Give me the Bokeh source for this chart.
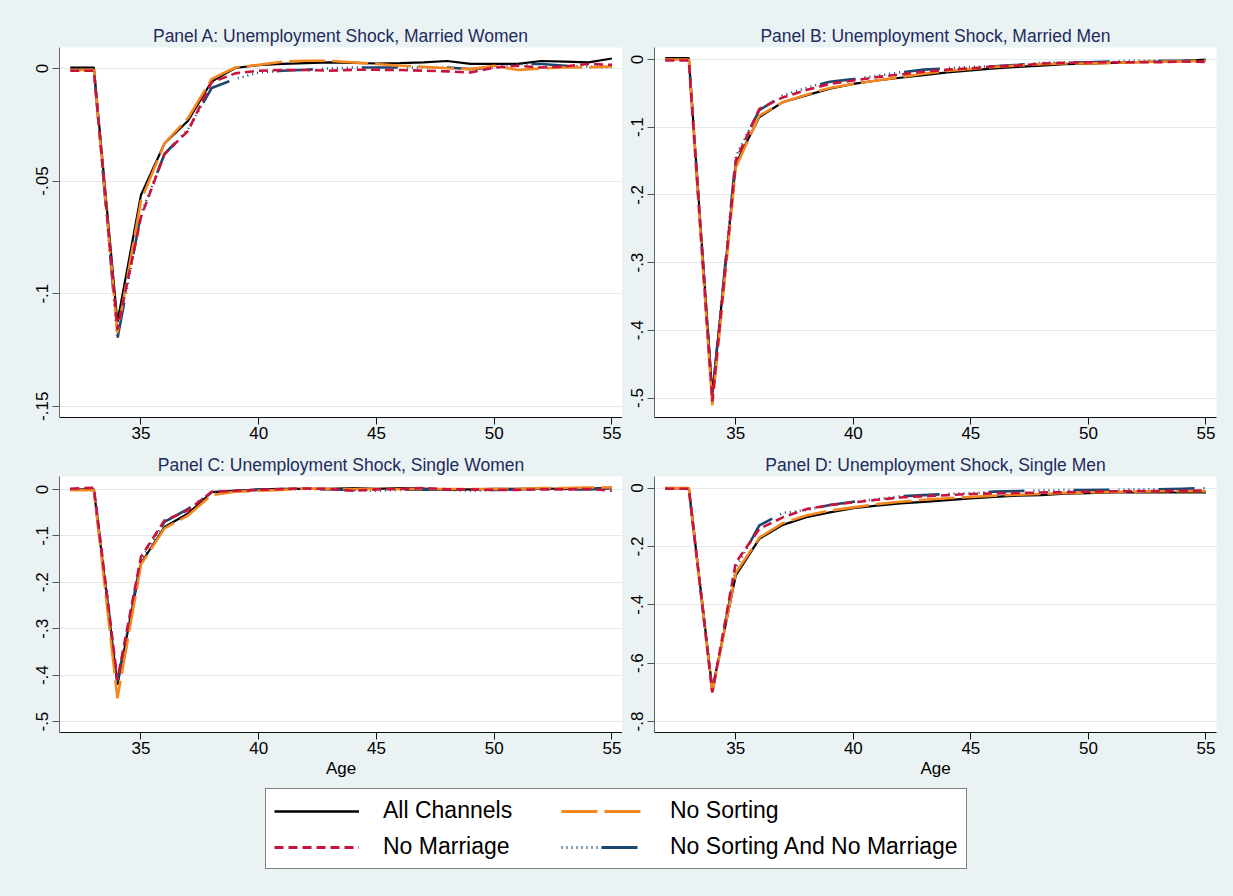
from bokeh.plotting import figure
from bokeh.layouts import column, row
from bokeh.models import Range1d, FixedTicker, CustomJSTickFormatter, Legend, LegendItem
from bokeh.embed import file_html
from bokeh.resources import INLINE

# ---- data -------------------------------------------------------------
ages = list(range(32, 56))
age_ticks = [35, 40, 45, 50, 55]

series_names = ["All Channels", "No Sorting", "No Marriage", "No Sorting And No Marriage"]

# Panel A: married women
a_all = [0.0004, 0.0004, -0.1127, -0.0562, -0.0333, -0.0232, -0.0058, 0.0002, 0.0015, 0.0020, 0.0024, 0.0027,
         0.0025, 0.0022, 0.0024, 0.0027, 0.0033, 0.0020, 0.0020, 0.0020, 0.0033, 0.0030, 0.0027, 0.0044]
a_nosort = [-0.0007, -0.0006, -0.1175, -0.0587, -0.0333, -0.0220, -0.0047, 0.0004, 0.0016, 0.0030, 0.0034, 0.0034,
            0.0027, 0.0020, 0.0012, 0.0007, 0.0001, -0.0003, 0.0012, -0.0007, 0.0000, 0.0004, 0.0004, 0.0009]
a_nomar = [-0.0010, -0.0010, -0.1160, -0.0660, -0.0380, -0.0277, -0.0062, -0.0022, -0.0010, -0.0007, -0.0007, -0.0010,
           -0.0006, -0.0006, -0.0007, -0.0010, -0.0013, -0.0018, 0.0004, 0.0012, 0.0004, 0.0009, 0.0020, 0.0016]
a_both = [-0.0003, -0.0003, -0.1200, -0.0646, -0.0380, -0.0270, -0.0087, -0.0047, -0.0018, -0.0010, -0.0006, 0.0000,
          0.0004, 0.0004, 0.0004, 0.0004, 0.0004, -0.0003, 0.0004, 0.0020, 0.0020, 0.0012, 0.0009, 0.0004]
a_ticks = [0, -0.05, -0.1, -0.15]

# Panel B: married men
b_all = [0.002, 0.002, -0.494, -0.154, -0.085, -0.063, -0.053, -0.043, -0.036, -0.031, -0.027, -0.023,
         -0.019, -0.016, -0.013, -0.011, -0.009, -0.007, -0.006, -0.005, -0.004, -0.003, -0.002, 0.000]
b_nosort = [0.000, 0.000, -0.511, -0.159, -0.083, -0.063, -0.052, -0.042, -0.036, -0.031, -0.026, -0.021,
            -0.017, -0.014, -0.011, -0.009, -0.007, -0.006, -0.006, -0.005, -0.004, -0.003, -0.003, -0.0015]
b_nomar = [-0.0015, -0.0015, -0.505, -0.149, -0.073, -0.056, -0.045, -0.036, -0.031, -0.026, -0.022, -0.018,
           -0.015, -0.013, -0.010, -0.009, -0.006, -0.005, -0.004, -0.004, -0.004, -0.004, -0.003, -0.0035]
b_both = [0.000, 0.000, -0.497, -0.143, -0.075, -0.053, -0.042, -0.033, -0.029, -0.024, -0.019, -0.015,
          -0.013, -0.011, -0.010, -0.008, -0.005, -0.004, -0.004, -0.003, -0.002, -0.002, -0.002, -0.001]
b_ticks = [0, -0.1, -0.2, -0.3, -0.4, -0.5]

# Panel C: single women
c_all = [0.000, 0.000, -0.421, -0.159, -0.081, -0.052, -0.006, -0.003, 0.000, 0.001, 0.001, 0.001,
         0.003, 0.001, 0.003, 0.002, -0.001, 0.000, 0.001, 0.001, 0.002, 0.001, 0.001, 0.004]
c_nosort = [-0.0015, -0.0015, -0.450, -0.162, -0.084, -0.056, -0.012, -0.005, -0.003, -0.001, 0.002, 0.001,
            0.001, 0.001, 0.001, 0.001, 0.001, 0.001, 0.001, 0.001, 0.003, 0.003, 0.004, 0.004]
c_nomar = [0.0015, 0.0035, -0.410, -0.145, -0.067, -0.045, -0.005, -0.003, -0.001, 0.001, 0.002, 0.001,
           -0.003, 0.000, 0.001, 0.003, 0.000, 0.000, -0.001, -0.001, 0.000, 0.000, 0.001, -0.003]
c_both = [0.000, 0.000, -0.414, -0.152, -0.070, -0.042, -0.006, -0.003, -0.001, 0.000, 0.001, 0.000,
          -0.001, -0.003, -0.001, 0.000, -0.001, -0.003, -0.001, 0.000, 0.001, 0.000, 0.000, 0.002]
c_ticks = [0, -0.1, -0.2, -0.3, -0.4, -0.5]

# Panel D: single men
d_all = [0.000, 0.000, -0.690, -0.299, -0.174, -0.126, -0.100, -0.083, -0.069, -0.060, -0.052, -0.047,
         -0.041, -0.035, -0.030, -0.026, -0.024, -0.019, -0.017, -0.015, -0.015, -0.015, -0.015, -0.015]
d_nosort = [0.000, 0.000, -0.700, -0.290, -0.170, -0.120, -0.094, -0.077, -0.066, -0.055, -0.047, -0.040,
            -0.035, -0.030, -0.026, -0.023, -0.020, -0.017, -0.015, -0.013, -0.012, -0.011, -0.011, -0.011]
d_nomar = [-0.002, -0.002, -0.700, -0.255, -0.140, -0.100, -0.072, -0.058, -0.049, -0.040, -0.032, -0.028,
           -0.024, -0.020, -0.018, -0.017, -0.015, -0.014, -0.012, -0.011, -0.010, -0.010, -0.009, -0.008]
d_both = [0.000, 0.000, -0.695, -0.275, -0.128, -0.085, -0.075, -0.058, -0.047, -0.038, -0.028, -0.024,
          -0.020, -0.018, -0.012, -0.010, -0.008, -0.007, -0.007, -0.006, -0.005, -0.004, -0.002, 0.000]
d_ticks = [0, -0.2, -0.4, -0.6, -0.8]

# ---- styling ----------------------------------------------------------
BG = "#eaf2f3"
FONT = "Liberation Sans"
TITLE_COLOR = "#1e2b5c"
LINE_STYLES = [
    ("black", "solid", 2.2),
    ("#f5871f", "36 7", 2.6),
    ("#c8143c", "9 5", 2.6),
    ("#1a476f", "1 4 1 4 1 4 1 4 1 4 1 4 1 4 1 4 36 9", 2.6),
]
DRAW_ORDER = [0, 3, 1, 2]

tick_fmt = CustomJSTickFormatter(code="""
if (Math.abs(tick) < 1e-12) { return "0"; }
var s = (+tick.toFixed(3)).toString();
return s.replace("0.", ".");
""")


def make_panel(title, values, yticks, yrange, width, height, borders, show_xlabel):
    left, right, top, bottom = borders
    p = figure(width=width, height=height, x_range=Range1d(31.54, 55.45), y_range=Range1d(*yrange),
               output_backend="svg", toolbar_location=None, title=title,
               min_border_left=left, min_border_right=right, min_border_top=top, min_border_bottom=bottom)
    p.border_fill_color = BG
    p.background_fill_color = "white"
    p.outline_line_color = None

    p.title.align = "center"
    p.title.text_font = FONT
    p.title.text_font_size = "17.5px"
    p.title.text_font_style = "normal"
    p.title.text_color = TITLE_COLOR
    p.title.standoff = 4

    for i in DRAW_ORDER:
        color, dash, lw = LINE_STYLES[i]
        p.line(ages, values[i], line_color=color, line_dash=dash, line_width=lw)

    xa = p.xaxis[0]
    xa.ticker = FixedTicker(ticks=age_ticks)
    xa.major_label_text_font = FONT
    xa.major_label_text_font_size = "17px"
    xa.major_label_text_color = "black"
    xa.major_label_standoff = 2
    xa.major_tick_out = 7
    xa.major_tick_in = 0
    xa.minor_tick_out = 0
    xa.minor_tick_in = 0
    xa.axis_line_color = "#111111"
    xa.major_tick_line_color = "#111111"
    if show_xlabel:
        xa.axis_label = "Age"
        xa.axis_label_text_font = FONT
        xa.axis_label_text_font_size = "17px"
        xa.axis_label_text_font_style = "normal"
        xa.axis_label_text_color = "black"
        xa.axis_label_standoff = 2

    ya = p.yaxis[0]
    ya.ticker = FixedTicker(ticks=yticks)
    ya.formatter = tick_fmt
    ya.major_label_orientation = "vertical"
    ya.major_label_text_font = FONT
    ya.major_label_text_font_size = "17px"
    ya.major_label_text_color = "black"
    ya.major_label_standoff = 4
    ya.major_tick_out = 7
    ya.major_tick_in = 0
    ya.minor_tick_out = 0
    ya.minor_tick_in = 0
    ya.axis_line_color = "#666666"
    ya.major_tick_line_color = "#555555"

    p.xgrid.visible = False
    p.ygrid.grid_line_color = "#e2eaed"
    p.ygrid.grid_line_width = 1.2
    return p


pA = make_panel("Panel A: Unemployment Shock, Married Women", [a_all, a_nosort, a_nomar, a_both],
                a_ticks, (-0.155, 0.0093), 622, 450, (59, 0, 47, 33), False)
pB = make_panel("Panel B: Unemployment Shock, Married Men", [b_all, b_nosort, b_nomar, b_both],
                b_ticks, (-0.5288, 0.0177), 611, 450, (32, 17, 47, 33), False)
pC = make_panel("Panel C: Unemployment Shock, Single Women", [c_all, c_nosort, c_nomar, c_both],
                c_ticks, (-0.5235, 0.0278), 622, 330, (59, 0, 24, 48), True)
pD = make_panel("Panel D: Unemployment Shock, Single Men", [d_all, d_nosort, d_nomar, d_both],
                d_ticks, (-0.8375, 0.0398), 611, 330, (32, 17, 24, 48), True)

# ---- shared legend ----------------------------------------------------
# The key figure shows only its legend; the series it carries sit outside its visible range.
pL = figure(width=1233, height=116, x_range=Range1d(0, 1), y_range=Range1d(0, 1),
            output_backend="svg", toolbar_location=None, x_axis_location=None, y_axis_location=None,
            min_border_left=0, min_border_right=0, min_border_top=0, min_border_bottom=0)
pL.border_fill_color = BG
pL.background_fill_color = BG
pL.outline_line_color = None
pL.xgrid.visible = False
pL.ygrid.grid_line_color = None

items = []
for name, vals, (color, dash, lw) in zip(series_names, [a_all, a_nosort, a_nomar, a_both], LINE_STYLES):
    r = pL.line(x=ages, y=vals, line_color=color, line_dash=dash, line_width=lw + 0.4)
    items.append(LegendItem(label=name, renderers=[r]))

legend = Legend(items=items, orientation="horizontal", ncols=2, location=(265, 27),
                label_text_font=FONT, label_text_font_size="23px", label_text_color="black",
                label_standoff=24, label_width=169, glyph_width=85, glyph_height=20,
                spacing=9, padding=8, margin=0,
                border_line_color="black", border_line_width=1,
                background_fill_color="white", background_fill_alpha=1.0)
pL.add_layout(legend)

layout = column(row(pA, pB), row(pC, pD), pL)
layout.styles = {"background-color": BG}

open("out.html", "w").write(file_html(layout, INLINE))
